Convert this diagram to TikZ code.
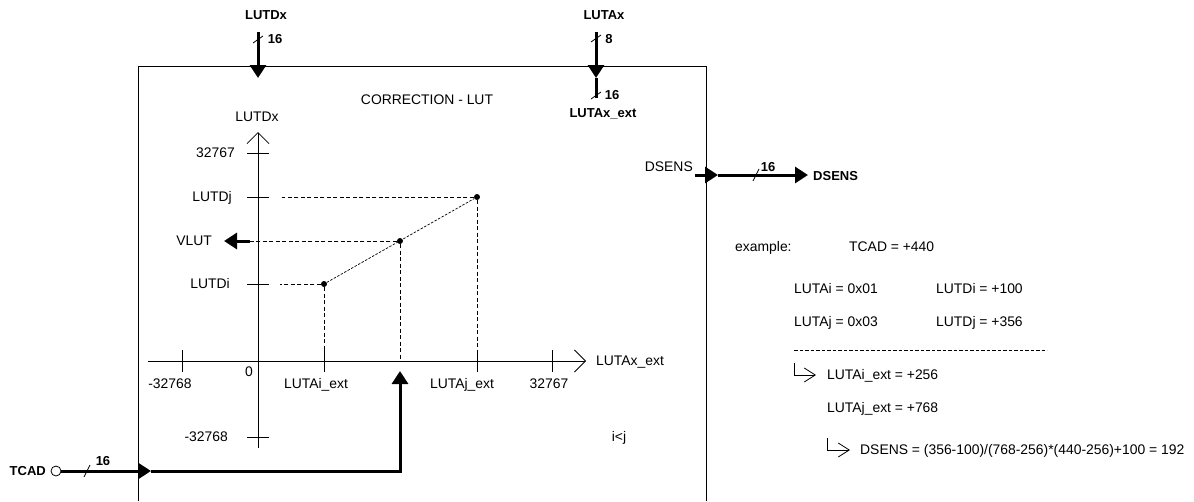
\documentclass[tikz,border=0pt]{standalone}
\usepackage{fontspec}
\setmainfont{Liberation Sans}
\usetikzlibrary{arrows.meta,positioning,calc}

\begin{document}
\begin{tikzpicture}[x=1pt, y=-1pt,
    txt/.style={inner sep=0pt, text height=9.4pt, text depth=0pt, font=\fontsize{13.9}{15}\selectfont},
    sig/.style={inner sep=0pt, text height=9.4pt, text depth=0pt, font=\fontsize{13}{15}\selectfont\bfseries},
    bus/.style={line width=3pt, -{Triangle[length=13pt,width=16pt]}},
    busline/.style={line width=3pt},
    slash/.style={line width=0.8pt},
    frame/.style={line width=0.8pt},
    guide/.style={line width=0.7pt, dash pattern=on 4pt off 2.5pt},
    interp/.style={line width=0.7pt, dash pattern=on 2.5pt off 1.5pt},
    sep/.style={line width=0.7pt, dash pattern=on 3.5pt off 2pt},
    axis/.style={line width=0.8pt, -{Straight Barb[length=11pt,width=22pt]}},
    hook/.style={line width=0.8pt, -{Straight Barb[length=11pt,width=14pt]}},
    dot/.style={circle, fill, inner sep=0pt, minimum size=6pt}
  ]
  \useasboundingbox (0,0) rectangle (1194,501);

  % block
  \draw[frame] (138,501) |- (706,66) -- (706,501);
  \node[txt] (title) at (427,100) {CORRECTION - LUT};

  % inputs on top
  \node[sig] (lutdxIn) at (266,15) {LUTDx};
  \coordinate (lutdxA) at (258,32);
  \coordinate (lutdxB) at (258,78);
  \draw[bus] (lutdxA) -- (lutdxB);
  \draw[slash] (253,43) -- ++(10,-7);
  \node[sig] (lutdxW) at (275,39) {16};

  \node[sig] (lutaxIn) at (604,15) {LUTAx};
  \coordinate (lutaxA) at (596,32);
  \coordinate (lutaxB) at (596,78);
  \coordinate (lutaxC) at (596,98);
  \draw[bus] (lutaxA) -- (lutaxB);
  \draw[busline] (lutaxB) -- (lutaxC);
  \draw[slash] (591,42) -- ++(10,-7);
  \node[sig] (lutaxW) at (609,39) {8};
  \draw[slash] (591,99) -- ++(10,-7);
  \node[sig] (lutaxExtW) at (612,95) {16};
  \node[sig] (lutaxExt) at (603,113) {LUTAx\_ext};

  % axes
  \coordinate (xmin) at (148,361);
  \coordinate (xmax) at (586,361);
  \coordinate (ymin) at (258,448);
  \coordinate (ymax) at (258,132);
  \draw[axis] (xmin) -- (xmax);
  \draw[axis] (ymin) -- (ymax);
  \foreach \x in {182,324,477,552}
    \draw[frame] (\x,350) -- (\x,372);
  \foreach \y in {153,197,284,437}
    \draw[frame] (247,\y) -- (269,\y);

  \node[txt] (yname) at (257,117) {LUTDx};
  \node[txt, anchor=east] (ytop) at (235,153) {32767};
  \node[txt, anchor=east] (lutdj) at (232,197) {LUTDj};
  \node[txt, anchor=east] (vlut) at (212,241) {VLUT};
  \node[txt, anchor=east] (lutdi) at (230,284) {LUTDi};
  \node[txt, anchor=east] (ybot) at (228,437) {-32768};

  \node[txt] (xbot) at (170,384) {-32768};
  \node[txt] (zero) at (249,372) {0};
  \node[txt] (lutai) at (316,384) {LUTAi\_ext};
  \node[txt] (lutaj) at (462,384) {LUTAj\_ext};
  \node[txt] (xtop) at (549,384) {32767};
  \node[txt, anchor=west] (xname) at (596,361) {LUTAx\_ext};
  \node[txt] (cond) at (619,437) {i<j};

  % interpolation
  \node[dot] (pi) at (324,284) {};
  \node[dot] (pv) at (400,241) {};
  \node[dot] (pj) at (477,197) {};
  \draw[interp] (pi) -- (pj);
  \draw[guide] (pj) -- (282,197);
  \draw[guide] (pi) -- (280,284);
  \draw[guide] (pj) -- (477,350);
  \draw[guide] (pi) -- (324,350);
  \draw[guide] (pv) -- (400,361);
  \draw[guide] (pv) -- (250,241);
  \coordinate (vlutA) at (250,241);
  \coordinate (vlutB) at (224,241);
  \draw[bus] (vlutA) -- (vlutB);

  % TCAD input
  \node[sig, anchor=east] (tcad) at (46,471) {TCAD};
  \node[circle, draw, frame, inner sep=0pt, minimum size=10pt] (tcadPin) at (56,471) {};
  \coordinate (tcadIn) at (151,471);
  \coordinate (tcadBend) at (400,471);
  \coordinate (tcadTip) at (400,371);
  \draw[bus] (tcadPin) -- (tcadIn);
  \draw[bus] (tcadIn) -- (tcadBend) -- (tcadTip);
  \draw[slash] (84,477) -- ++(6,-12);
  \node[sig] (tcadW) at (103,461) {16};

  % DSENS output
  \node[txt, anchor=east] (dsensInt) at (693,167) {DSENS};
  \coordinate (dsensA) at (695,175);
  \coordinate (dsensB) at (718,175);
  \coordinate (dsensC) at (808,175);
  \draw[bus] (dsensA) -- (dsensB);
  \draw[bus] (dsensB) -- (dsensC);
  \draw[slash] (753,181) -- ++(6,-12);
  \node[sig] (dsensW) at (768,167) {16};
  \node[sig, anchor=west] (dsensOut) at (813,176) {DSENS};

  % example
  \node[txt, anchor=west] (ex) at (735,247) {example:};
  \node[txt, anchor=west] (exTcad) at (849,247) {TCAD = +440};
  \node[txt, anchor=west] (exAi) at (794,289) {LUTAi = 0x01};
  \node[txt, anchor=west] (exDi) at (936,289) {LUTDi = +100};
  \node[txt, anchor=west] (exAj) at (794,322) {LUTAj = 0x03};
  \node[txt, anchor=west] (exDj) at (936,322) {LUTDj = +356};
  \coordinate (sepA) at (794,350);
  \coordinate (sepB) at (1047,350);
  \draw[sep] (sepA) -- (sepB);
  \node[txt, anchor=west] (exAiExt) at (827,375) {LUTAi\_ext = +256};
  \node[txt, anchor=west] (exAjExt) at (827,408) {LUTAj\_ext = +768};
  \node[txt, anchor=west] (exRes) at (860,450) {DSENS = (356-100)/(768-256)*(440-256)+100 = 192};
  \coordinate (hookA) at (794,363);
  \coordinate (hookB) at (827,438);
  \draw[hook, shorten >=11pt] (hookA) |- (exAiExt.west);
  \draw[hook, shorten >=10pt] (hookB) |- (exRes.west);
\end{tikzpicture}
\end{document}
